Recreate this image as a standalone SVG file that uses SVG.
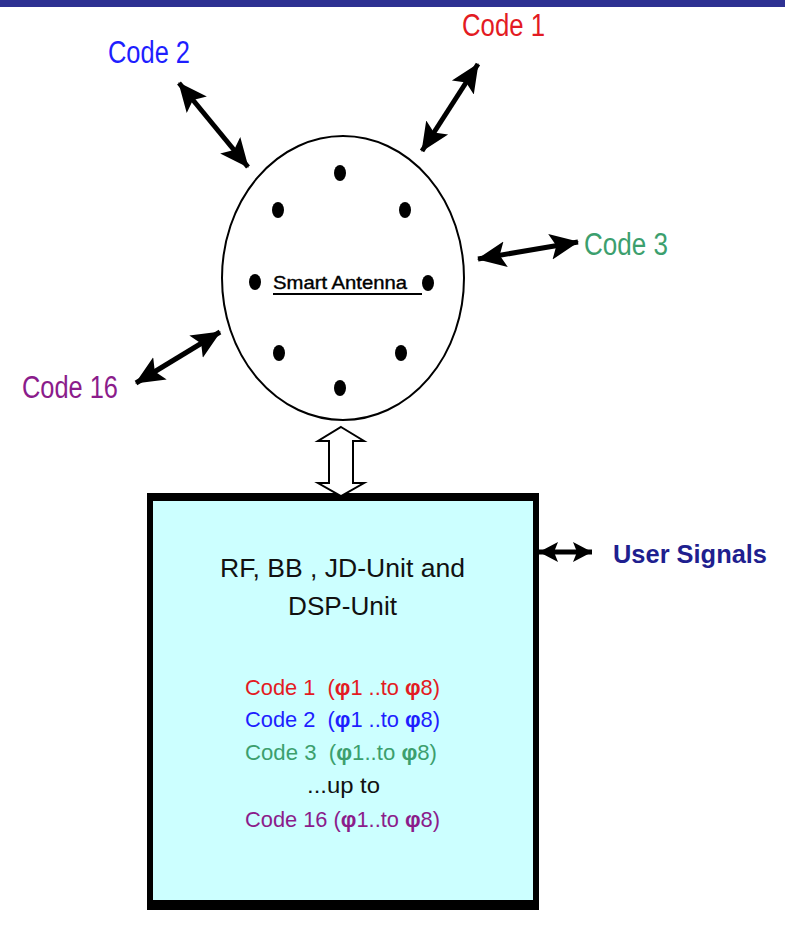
<svg xmlns="http://www.w3.org/2000/svg" width="785" height="941" viewBox="0 0 785 941">
<style>
  .lbl { font-family: "Liberation Sans", Arial, sans-serif; white-space: pre; }
  .dot { fill: #000; }
  .conn { stroke: #000; stroke-width: 5; fill: none; marker-start: url(#ah); marker-end: url(#ah); }
  .conn2 { stroke: #000; stroke-width: 5; fill: none; marker-start: url(#ah2); marker-end: url(#ah2); }
  .red { fill: #e31b23; }
  .blue { fill: #1e1eff; }
  .green { fill: #3c9f6e; }
  .purple { fill: #8b1c8b; }
</style>
<defs>
  <marker id="ah" markerUnits="userSpaceOnUse" markerWidth="30" markerHeight="28" refX="28" refY="14" orient="auto-start-reverse" viewBox="0 0 30 28">
    <path d="M0,1 L29,14 L0,27 L6,14 z" fill="#000"/>
  </marker>
  <marker id="ah2" markerUnits="userSpaceOnUse" markerWidth="20" markerHeight="22" refX="19" refY="11" orient="auto-start-reverse" viewBox="0 0 20 22">
    <path d="M0,1 L19,11 L0,21 L4,11 z" fill="#000"/>
  </marker>
</defs>
<rect x="0" y="0" width="785" height="7" fill="#2e3192"/>

<g id="antenna">
  <ellipse cx="343" cy="278" rx="121" ry="142" fill="#fff" stroke="#000" stroke-width="2"/>
  <ellipse class="dot" cx="340" cy="173" rx="6" ry="8"/>
  <ellipse class="dot" cx="278" cy="210" rx="6" ry="8"/>
  <ellipse class="dot" cx="405" cy="210" rx="6" ry="8"/>
  <ellipse class="dot" cx="255" cy="282" rx="6" ry="8"/>
  <ellipse class="dot" cx="428" cy="283" rx="6" ry="8"/>
  <ellipse class="dot" cx="279" cy="353" rx="6" ry="8"/>
  <ellipse class="dot" cx="401" cy="353" rx="6" ry="8"/>
  <ellipse class="dot" cx="340" cy="388" rx="6" ry="8"/>
  <text class="lbl" x="273" y="289" font-size="19" textLength="134" lengthAdjust="spacingAndGlyphs" fill="#000" stroke="#000" stroke-width="0.4">Smart Antenna</text>
  <line x1="273" y1="294" x2="422" y2="294" stroke="#000" stroke-width="2"/>
</g>

<g id="code1"><text class="lbl red" x="462" y="36" font-size="31" textLength="83" lengthAdjust="spacingAndGlyphs">Code 1</text></g>
<g id="code2"><text class="lbl blue" x="108" y="63" font-size="31" textLength="82" lengthAdjust="spacingAndGlyphs">Code 2</text></g>
<g id="code3"><text class="lbl green" x="584" y="255" font-size="31" textLength="84" lengthAdjust="spacingAndGlyphs">Code 3</text></g>
<g id="code16"><text class="lbl purple" x="22" y="398" font-size="31" textLength="96" lengthAdjust="spacingAndGlyphs">Code 16</text></g>
<g id="user-signals"><text class="lbl" x="613" y="563" font-size="25" font-weight="bold" fill="#1f1f8f" textLength="154" lengthAdjust="spacingAndGlyphs">User Signals</text></g>

<g id="unit">
  <rect x="147" y="493" width="392" height="417" fill="#000"/>
  <rect x="153" y="501" width="380" height="399" fill="#ccffff"/>
  <text class="lbl" x="220" y="577" font-size="26" fill="#111" textLength="245" lengthAdjust="spacingAndGlyphs">RF, BB , JD-Unit and</text>
  <text class="lbl" x="288" y="615" font-size="26" fill="#111" textLength="109" lengthAdjust="spacingAndGlyphs">DSP-Unit</text>
  <text class="lbl red" x="245" y="695" font-size="22" textLength="195" lengthAdjust="spacingAndGlyphs">Code 1  (<tspan font-weight="bold">φ</tspan>1 ..to <tspan font-weight="bold">φ</tspan>8)</text>
  <text class="lbl blue" x="245" y="727" font-size="22" textLength="195" lengthAdjust="spacingAndGlyphs">Code 2  (<tspan font-weight="bold">φ</tspan>1 ..to <tspan font-weight="bold">φ</tspan>8)</text>
  <text class="lbl green" x="245" y="760" font-size="22" textLength="192" lengthAdjust="spacingAndGlyphs">Code 3  (<tspan font-weight="bold">φ</tspan>1..to <tspan font-weight="bold">φ</tspan>8)</text>
  <text class="lbl" x="307" y="793" font-size="22" fill="#111" textLength="73" lengthAdjust="spacingAndGlyphs">...up to</text>
  <text class="lbl purple" x="245" y="827" font-size="22" textLength="195" lengthAdjust="spacingAndGlyphs">Code 16 (<tspan font-weight="bold">φ</tspan>1..to <tspan font-weight="bold">φ</tspan>8)</text>
</g>

<g id="connectors">
  <line class="conn" x1="478" y1="64" x2="422" y2="151"/>
  <line class="conn" x1="179" y1="83" x2="248" y2="167"/>
  <line class="conn" x1="478" y1="259" x2="578" y2="242"/>
  <line class="conn" x1="136" y1="383" x2="220" y2="332"/>
  <line class="conn2" x1="539" y1="552" x2="592" y2="552"/>
  <polygon points="341,427 364,441 353,441 353,483 364,483 341,496 318,483 329,483 329,441 318,441" fill="#fff" stroke="#000" stroke-width="2"/>
</g>
</svg>
